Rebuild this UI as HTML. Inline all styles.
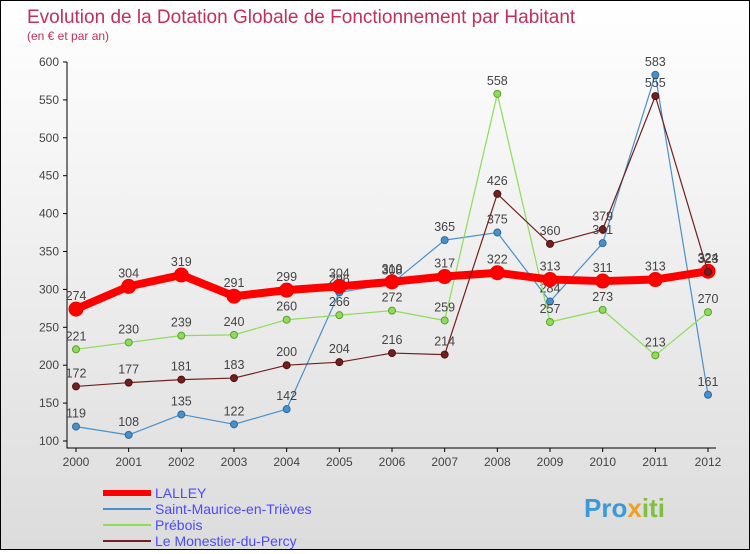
<!DOCTYPE html>
<html><head><meta charset="utf-8"><style>
body{margin:0;width:750px;height:550px;overflow:hidden;font-family:"Liberation Sans",sans-serif}
#wrap{position:relative;width:748px;height:548px;border:1px solid #000;background:linear-gradient(#fff,#dcdcdc)}
</style></head><body>
<div id="wrap">
<svg id="chart" width="748" height="548" xmlns="http://www.w3.org/2000/svg">
<text x="26" y="22" font-size="19" fill="#c0305a">Evolution de la Dotation Globale de Fonctionnement par Habitant</text>
<text x="26" y="39" font-size="12" fill="#c0305a">(en € et par an)</text>
<g id="plot"></g>
<g id="legend">
<line x1="102" y1="492" x2="150" y2="492" stroke="#f00" stroke-width="6"/>
<text x="154" y="497" font-size="14" fill="#4a4aff">LALLEY</text>
<line x1="102" y1="508" x2="150" y2="508" stroke="#4a90c8" stroke-width="2"/>
<text x="154" y="513" font-size="14" fill="#4a4aff">Saint-Maurice-en-Trièves</text>
<line x1="102" y1="524" x2="150" y2="524" stroke="#8edc5a" stroke-width="2"/>
<text x="154" y="529" font-size="14" fill="#4a4aff">Prébois</text>
<line x1="102" y1="540" x2="150" y2="540" stroke="#702020" stroke-width="2"/>
<text x="154" y="545" font-size="14" fill="#4a4aff">Le Monestier-du-Percy</text>
</g>
<text x="583" y="516" font-size="26" font-weight="bold" fill="#3a9ad8">Pro<tspan fill="#f0a020">x</tspan><tspan fill="#80c040">iti</tspan></text>
</svg>
</div>
<script>
const years=[2000,2001,2002,2003,2004,2005,2006,2007,2008,2009,2010,2011,2012];
const yTicks=[100,150,200,250,300,350,400,450,500,550,600];
const lalley=[274,304,319,291,299,304,310,317,322,313,311,313,324];
const saintMaurice=[119,108,135,122,142,296,308,365,375,284,361,583,161];
const prebois=[221,230,239,240,260,266,272,259,558,257,273,213,270];
const monestier=[172,177,181,183,200,204,216,214,426,360,379,555,323];
const NS="http://www.w3.org/2000/svg";
const g=document.getElementById('plot');
const xs=i=>75+i*(707-75)/12;
const ys=v=>440-(v-100)*(440-61)/500;
function mk(t,a,p){const e=document.createElementNS(NS,t);for(const k in a)e.setAttribute(k,a[k]);(p||g).appendChild(e);return e;}
let ax=mk('path',{d:'M66,61 V447 H715',stroke:'#000',fill:'none','stroke-width':1});


yTicks.forEach(v=>{const t=mk('text',{x:58,y:ys(v)+4,'font-size':12,fill:'#444','text-anchor':'end'});t.textContent=v;


mk('line',{x1:62,x2:66,y1:ys(v),y2:ys(v),stroke:'#000'});});
years.forEach((y,i)=>{const t=mk('text',{x:xs(i),y:465,'font-size':12,fill:'#444','text-anchor':'middle'});t.textContent=y;


mk('line',{x1:xs(i),x2:xs(i),y1:447,y2:451,stroke:'#000'});});
function series(data,color,w,r,name,stroke){
const grp=mk('g',{});


mk('polyline',{points:data.map((v,i)=>xs(i)+','+ys(v)).join(' '),fill:'none',stroke:color,'stroke-width':w,'stroke-linejoin':'round'},grp);
data.forEach((v,i)=>{const c=mk('circle',{cx:xs(i),cy:ys(v),r:r,fill:color,stroke:stroke,'stroke-width':1},grp);


const t=mk('text',{x:xs(i),y:ys(v)-9,'font-size':12.5,fill:'#444','text-anchor':'middle'},grp);t.textContent=v;});}
series(saintMaurice,'#4a90c8',1.2,3.5,'saint-maurice-series','#2a6aa0');
series(prebois,'#8edc5a',1.2,3.5,'prebois-series','#5aa030');
series(lalley,'#f00',8,7,'lalley-series','#e00');
series(monestier,'#702020',1.2,3.5,'monestier-series','#501010');
</script>
</body></html>
